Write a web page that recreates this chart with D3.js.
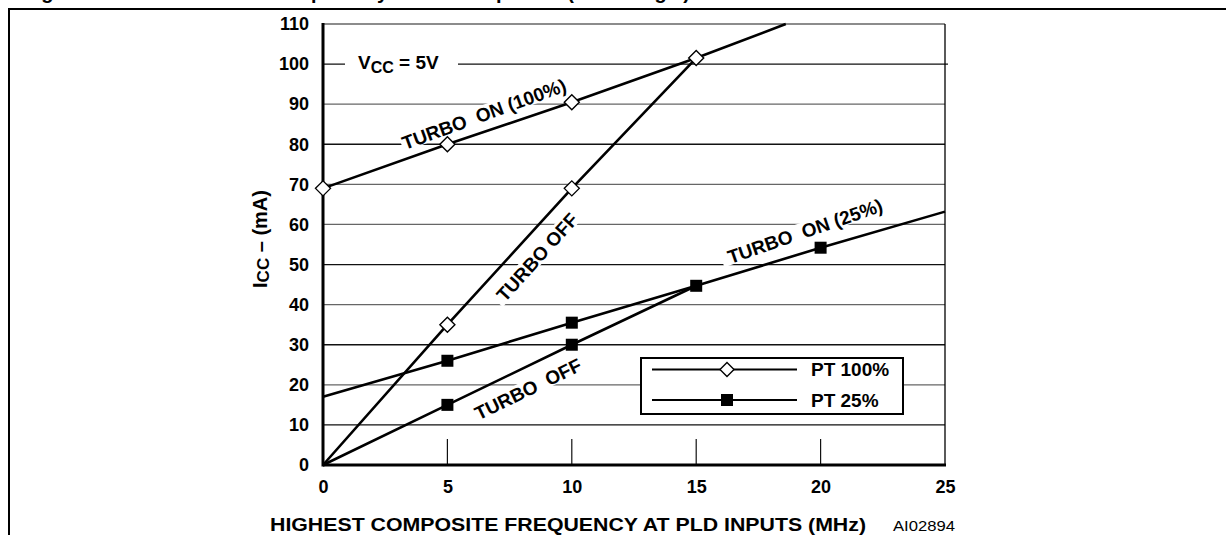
<!DOCTYPE html>
<html>
<head>
<meta charset="utf-8">
<script src="https://cdn.jsdelivr.net/npm/d3@7/dist/d3.min.js"></script>
<style>
  html, body { margin: 0; padding: 0; background: #fff; }
  svg { display: block; }
  text { font-family: "Liberation Sans", Arial, sans-serif; }
</style>
</head>
<body>
<svg id="chart" width="1226" height="535"></svg>
<script>
// ---------- data ----------
const xTicks = [0, 5, 10, 15, 20, 25];
const yTicks = [0, 10, 20, 30, 40, 50, 60, 70, 80, 90, 100, 110];

// PT 100% (open diamonds)
const pt100TurboOn  = [[0, 69], [5, 80], [10, 90.5], [15, 101.5], [18.6, 110]];
const pt100TurboOnMarks = [[0, 69], [5, 80], [10, 90.5], [15, 101.5]];
const pt100TurboOff = [[0, 0], [5, 35], [10, 69], [15, 101.5]];
const pt100TurboOffMarks = [[5, 35], [10, 69]];

// PT 25% (filled squares)
const pt25TurboOn  = [[0, 17], [5, 26], [10, 35.5], [15, 44.7], [20, 54.2], [25, 63.2]];
const pt25TurboOnMarks = [[5, 26], [10, 35.5], [15, 44.7], [20, 54.2]];
const pt25TurboOff = [[0, 0], [5, 15], [10, 30], [15, 44.7]];
const pt25TurboOffMarks = [[5, 15], [10, 30]];

const legendLabels = ["PT 100%", "PT 25%"];
const titleText = "Figure 39. PLD ICC /Frequency Consumption (5V range)";
const xTitle = "HIGHEST COMPOSITE FREQUENCY AT PLD INPUTS (MHz)";
const figCode = "AI02894";

// ---------- layout ----------
const svg = d3.select("#chart");
const x = d3.scaleLinear().domain([0, 25]).range([323, 945]);
const y = d3.scaleLinear().domain([0, 110]).range([465, 24]);

// clipped title (only descenders visible, as in the reference)
svg.append("text").attr("x", 18).attr("y", -1)
  .attr("font-size", 20).attr("font-weight", "bold")
  .attr("textLength", 672).attr("lengthAdjust", "spacing")
  .text(titleText);
svg.append("rect").attr("x", 0).attr("y", 8).attr("width", 1226).attr("height", 527).attr("fill", "#fff");
svg.append("line").attr("x1", 8).attr("x2", 1226).attr("y1", 9).attr("y2", 9)
  .attr("stroke", "#000").attr("stroke-width", 2.2);
svg.append("line").attr("x1", 9).attr("x2", 9).attr("y1", 9).attr("y2", 535)
  .attr("stroke", "#000").attr("stroke-width", 2);

// horizontal gridlines
svg.append("g").selectAll("line").data(yTicks.filter(d => d > 0)).join("line")
  .attr("x1", x(0)).attr("x2", d => d === 100 ? x(25) + 3 : x(25))
  .attr("y1", d => y(d)).attr("y2", d => y(d))
  .attr("stroke", d => (d === 100 || d === 50 || d === 80 || d === 30 || d === 10) ? "#111" : "#666")
  .attr("stroke-width", 1.3);

// short vertical ticks
svg.append("g").selectAll("line").data(xTicks.filter(d => d > 0 && d < 25)).join("line")
  .attr("x1", d => x(d)).attr("x2", d => x(d))
  .attr("y1", y(0)).attr("y2", y(0) - 26)
  .attr("stroke", "#111").attr("stroke-width", 1.2);

// right border
svg.append("line").attr("x1", x(25)).attr("x2", x(25)).attr("y1", y(110)).attr("y2", y(0))
  .attr("stroke", "#000").attr("stroke-width", 1.3);

// white masks behind labels (cut gridlines)
const labels = [
  { t: "TURBO  ON (100%)", cx: 484, cy: 114, a: -20, w: 176 },
  { t: "TURBO OFF",        cx: 537, cy: 257, a: -48, w: 120 },
  { t: "TURBO  OFF",       cx: 528, cy: 389, a: -26, w: 126 },
  { t: "TURBO  ON (25%)",  cx: 805, cy: 231, a: -19, w: 176 }
];
svg.append("g").selectAll("rect").data(labels).join("rect")
  .attr("x", d => -d.w / 2).attr("y", -9).attr("width", d => d.w).attr("height", 17)
  .attr("fill", "#fff")
  .attr("transform", d => `translate(${d.cx},${d.cy}) rotate(${d.a})`);
// Vcc label mask
svg.append("rect").attr("x", 345).attr("y", 52).attr("width", 113).attr("height", 22).attr("fill", "#fff");

// axes lines
svg.append("line").attr("x1", x(0)).attr("x2", x(0)).attr("y1", y(110) - 1).attr("y2", y(0) + 1.5)
  .attr("stroke", "#000").attr("stroke-width", 3);
svg.append("line").attr("x1", x(0)).attr("x2", x(25) + 1).attr("y1", y(0)).attr("y2", y(0))
  .attr("stroke", "#000").attr("stroke-width", 3);

// tick labels
const yAxis = svg.append("g").attr("transform", `translate(${x(0)},0)`)
  .call(d3.axisLeft(y).tickValues(yTicks).tickSize(0).tickPadding(14));
yAxis.select(".domain").remove();
yAxis.selectAll("text").attr("font-size", 18).attr("font-weight", "bold")
  .attr("font-family", "Liberation Sans, Arial, sans-serif").attr("fill", "#000");

const xAxis = svg.append("g").attr("transform", `translate(0,${y(0)})`)
  .call(d3.axisBottom(x).tickValues(xTicks).tickSize(0).tickPadding(15));
xAxis.select(".domain").remove();
xAxis.selectAll("text").attr("font-size", 18).attr("font-weight", "bold")
  .attr("font-family", "Liberation Sans, Arial, sans-serif").attr("fill", "#000");

// data lines
const line = d3.line().x(d => x(d[0])).y(d => y(d[1]));
[pt100TurboOn, pt100TurboOff, pt25TurboOn, pt25TurboOff].forEach(s => {
  svg.append("path").datum(s).attr("d", line)
    .attr("fill", "none").attr("stroke", "#000").attr("stroke-width", 2.6);
});

// markers
const diamond = (g, data, r) => g.selectAll(null).data(data).join("path")
  .attr("d", `M0,${-r}L${r},0L0,${r}L${-r},0Z`)
  .attr("transform", d => `translate(${x(d[0])},${y(d[1])})`)
  .attr("fill", "#fff").attr("stroke", "#000").attr("stroke-width", 1.4);
const square = (g, data, s) => g.selectAll(null).data(data).join("rect")
  .attr("x", d => x(d[0]) - s / 2).attr("y", d => y(d[1]) - s / 2)
  .attr("width", s).attr("height", s).attr("fill", "#000");
const mg = svg.append("g");
diamond(mg.append("g"), pt100TurboOnMarks, 7.5);
diamond(mg.append("g"), pt100TurboOffMarks, 7.5);
square(mg.append("g"), pt25TurboOnMarks, 12);
square(mg.append("g"), pt25TurboOffMarks, 12);

// line labels
svg.append("g").selectAll("text").data(labels).join("text")
  .attr("transform", d => `translate(${d.cx},${d.cy}) rotate(${d.a})`)
  .attr("text-anchor", "middle").attr("dy", "0.36em")
  .attr("font-size", 19).attr("font-weight", "bold")
  .style("white-space", "pre")
  .text(d => d.t);

// Vcc label
const vcc = svg.append("text").attr("x", 358).attr("y", 69).attr("font-size", 19).attr("font-weight", "bold");
vcc.append("tspan").text("V");
vcc.append("tspan").attr("dy", 4).attr("font-size", 16).text("CC");
vcc.append("tspan").attr("dy", -4).text(" = 5V");

// y title
const yt = svg.append("text").attr("transform", `translate(267,239) rotate(-90)`)
  .attr("text-anchor", "middle").attr("font-size", 20).attr("font-weight", "bold");
yt.append("tspan").text("I");
yt.append("tspan").attr("dy", 2).attr("font-size", 17).text("CC");
yt.append("tspan").attr("dy", -2).text(" – (mA)");

// x title + code
svg.append("text").attr("x", 568).attr("y", 531).attr("text-anchor", "middle")
  .attr("font-size", 19).attr("font-weight", "bold")
  .attr("textLength", 596).attr("lengthAdjust", "spacingAndGlyphs").text(xTitle);
svg.append("text").attr("x", 924).attr("y", 531).attr("text-anchor", "middle")
  .attr("font-size", 15).attr("textLength", 62).attr("lengthAdjust", "spacingAndGlyphs").text(figCode);

// legend
const lg = svg.append("g");
lg.append("rect").attr("x", 641).attr("y", 358).attr("width", 262).attr("height", 56)
  .attr("fill", "#fff").attr("stroke", "#000").attr("stroke-width", 2);
const rows = [369.5, 400];
rows.forEach((ry, i) => {
  lg.append("line").attr("x1", 652).attr("x2", 797).attr("y1", ry).attr("y2", ry)
    .attr("stroke", "#000").attr("stroke-width", 2);
  lg.append("text").attr("x", 811).attr("y", ry).attr("dy", "0.36em")
    .attr("font-size", 19).attr("font-weight", "bold").text(legendLabels[i]);
});
lg.append("path").attr("d", "M0,-7L7,0L0,7L-7,0Z").attr("transform", `translate(727,${rows[0]})`)
  .attr("fill", "#fff").attr("stroke", "#000").attr("stroke-width", 1.4);
lg.append("rect").attr("x", 721).attr("y", rows[1] - 6).attr("width", 12).attr("height", 12).attr("fill", "#000");
</script>
</body>
</html>
